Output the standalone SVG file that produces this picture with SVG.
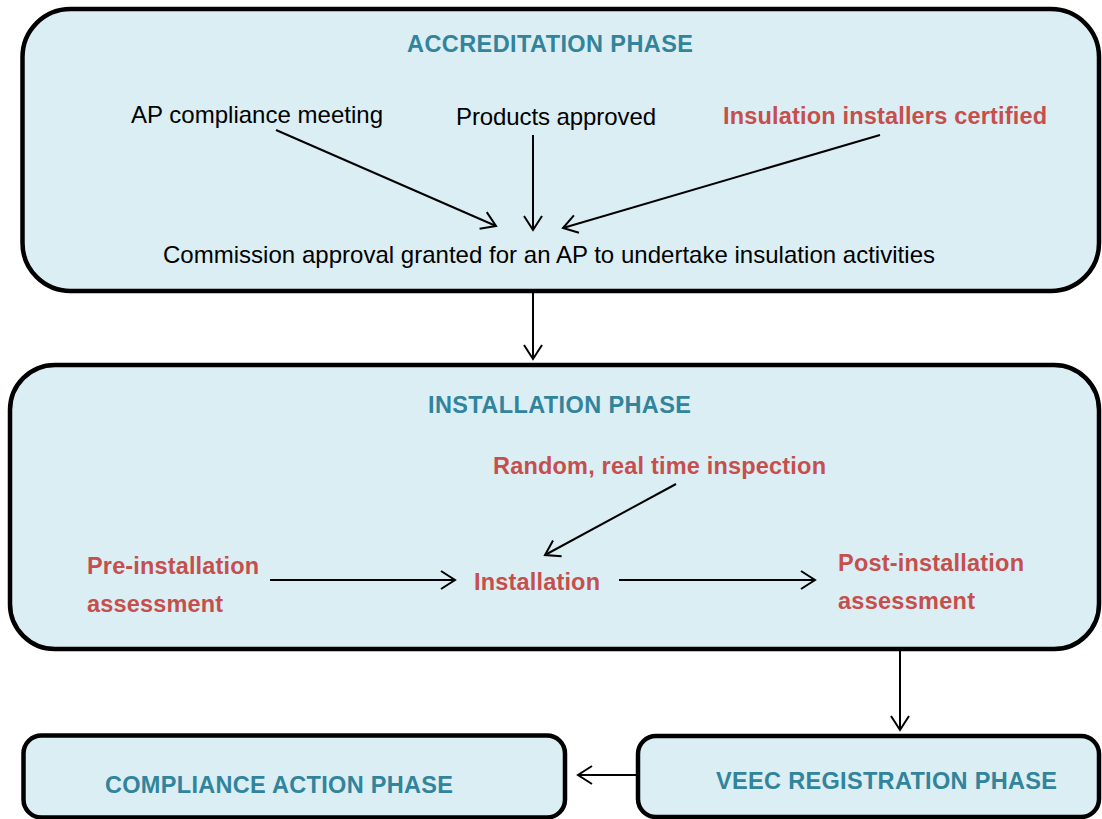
<svg xmlns="http://www.w3.org/2000/svg" width="1102" height="819" viewBox="0 0 1102 819">
<style>
.box{fill:#DBEEF3;stroke:#000;stroke-width:4.5}
.t{font-family:"Liberation Sans",Arial,sans-serif;font-size:24px;fill:#000}
.h{font-family:"Liberation Sans",Arial,sans-serif;font-size:23.5px;font-weight:bold;fill:#31849B}
.r{font-family:"Liberation Sans",Arial,sans-serif;font-size:23.5px;font-weight:bold;fill:#C64F4D}
.c{stroke:#000;stroke-width:2;fill:none;marker-end:url(#a)}
</style>
<defs>
<marker id="a" markerUnits="userSpaceOnUse" markerWidth="30" markerHeight="30" refX="16" refY="15" orient="auto" viewBox="0 0 30 30">
<path d="M2,6 L16,15 L2,24" fill="none" stroke="#000" stroke-width="2"/>
</marker>
</defs>
<g id="accreditation">
<rect class="box" x="22.5" y="9" width="1076.5" height="282" rx="48" ry="48"/>
<text class="h" x="407" y="52" textLength="286">ACCREDITATION PHASE</text>
<text class="t" x="131" y="123" textLength="252">AP compliance meeting</text>
<text class="t" x="456" y="125" textLength="200">Products approved</text>
<text class="r" x="723" y="124" textLength="324">Insulation installers certified</text>
<text class="t" x="163" y="263" textLength="772">Commission approval granted for an AP to undertake insulation activities</text>
</g>
<g id="installation">
<rect class="box" x="10" y="365" width="1089" height="284" rx="45" ry="45"/>
<text class="h" x="428" y="413" textLength="263">INSTALLATION PHASE</text>
<text class="r" x="493" y="474" textLength="333">Random, real time inspection</text>
<text class="r" x="87" y="574" textLength="172">Pre-installation</text>
<text class="r" x="87" y="612" textLength="136">assessment</text>
<text class="r" x="474" y="590" textLength="126">Installation</text>
<text class="r" x="838" y="571" textLength="186">Post-installation</text>
<text class="r" x="838" y="609" textLength="137">assessment</text>
</g>
<g id="compliance">
<rect class="box" x="23.5" y="735.5" width="541.5" height="82" rx="18" ry="18"/>
<text class="h" x="105" y="793" textLength="348">COMPLIANCE ACTION PHASE</text>
</g>
<g id="veec">
<rect class="box" x="638" y="736" width="461" height="81" rx="18" ry="18"/>
<text class="h" x="716" y="789" textLength="341">VEEC REGISTRATION PHASE</text>
</g>
<g id="connectors">
<line class="c" x1="276" y1="130" x2="496" y2="226"/>
<line class="c" x1="533" y1="135" x2="533" y2="230"/>
<line class="c" x1="880" y1="135" x2="563" y2="228"/>
<line class="c" x1="533" y1="293" x2="533" y2="359"/>
<line class="c" x1="676" y1="484" x2="545" y2="555"/>
<line class="c" x1="270" y1="580" x2="455" y2="580"/>
<line class="c" x1="619" y1="580" x2="815" y2="580"/>
<line class="c" x1="900" y1="651" x2="900" y2="730"/>
<line class="c" x1="638" y1="775" x2="578" y2="775"/>
</g>
</svg>
